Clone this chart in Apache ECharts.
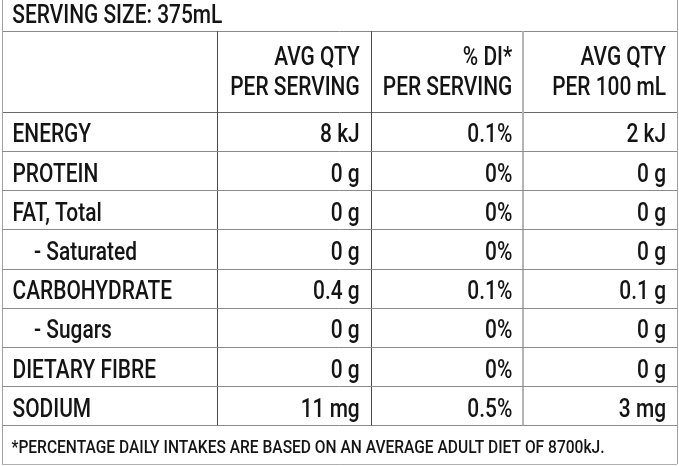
<!DOCTYPE html>
<html><head><meta charset="utf-8">
<script src="https://cdn.jsdelivr.net/npm/echarts@6/dist/echarts.min.js"></script>
<style>html,body{margin:0;padding:0;background:#fff}#c{width:679px;height:466px}</style>
</head><body><div id="c"></div>
<script>
// ---- data ----
const servingSize = 'SERVING SIZE: 375mL';
const headerLine1 = ['AVG QTY', '% DI*', 'AVG QTY'];
const headerLine2 = ['PER SERVING', 'PER SERVING', 'PER 100 mL'];
const nutrients = ['ENERGY', 'PROTEIN', 'FAT, Total', '- Saturated', 'CARBOHYDRATE', '- Sugars', 'DIETARY FIBRE', 'SODIUM'];
const perServing = ['8 kJ', '0 g', '0 g', '0 g', '0.4 g', '0 g', '0 g', '11 mg'];
const percentDI = ['0.1%', '0%', '0%', '0%', '0.1%', '0%', '0%', '0.5%'];
const per100mL = ['2 kJ', '0 g', '0 g', '0 g', '0.1 g', '0 g', '0 g', '3 mg'];
const footnote = '*PERCENTAGE DAILY INTAKES ARE BASED ON AN AVERAGE ADULT DIET OF 8700kJ.';

// ---- layout (axis units) ----
const W = 675, H = 464;
const COLS = [0, 214.7, 368.7, 521.3, 675];
const SERV_BOTTOM = 31.3, HEAD_BOTTOM = 111.7, ROW_H = 39.2;
const FOOT_TOP = HEAD_BOTTOM + nutrients.length * ROW_H;
const PAD = 11;
const FONT = 'Roboto, Liberation Sans, Arial, sans-serif';
const SX = 0.82;
const INK = '#141414';

function txt(api, x, y, text, align, size, sx) {
  const p = api.coord([x, y]);
  return {
    type: 'text', x: p[0], y: p[1], scaleX: sx || SX,
    style: { text: text, fill: INK, fontSize: size || 25.5, fontFamily: FONT, fontWeight: 500,
      align: align, textAlign: align, verticalAlign: 'middle', textVerticalAlign: 'middle' }
  };
}
function ln(api, x1, y1, x2, y2, color, w) {
  const a = api.coord([x1, y1]), b = api.coord([x2, y2]);
  const lw = w || 1;
  const off = lw % 2 ? 0.5 : 0;
  const fx = v => Math.round(v) + off;
  return {
    type: 'line',
    shape: { x1: x1 === x2 ? fx(a[0]) : a[0], y1: y1 === y2 ? fx(a[1]) : a[1],
             x2: x1 === x2 ? fx(b[0]) : b[0], y2: y1 === y2 ? fx(b[1]) : b[1] },
    style: { stroke: color, lineWidth: lw }
  };
}
const VCOL = ['#9a9a9a', '#4a4a4a', '#4a4a4a', '#b4b4b4', '#9a9a9a'];
const VW = [1, 1, 1, 2, 1];

function renderFrame(params, api) {
  const els = [];
  els.push(txt(api, 10.3, 17, servingSize, 'left'));
  for (let c = 0; c < 3; c++) {
    els.push(txt(api, COLS[c + 2] - PAD, 59, headerLine1[c], 'right'));
    els.push(txt(api, COLS[c + 2] - PAD, 89, headerLine2[c], 'right'));
  }
  els.push(txt(api, 9.5, 448, footnote, 'left', 19.1, 0.815));
  els.push(ln(api, 0, SERV_BOTTOM, W, SERV_BOTTOM, '#8a8a8a'));
  els.push(ln(api, 0, HEAD_BOTTOM, W, HEAD_BOTTOM, '#6a6a6a'));
  els.push(ln(api, 0, FOOT_TOP, W, FOOT_TOP, '#8a8a8a'));
  els.push(ln(api, 0, H - 0.5, W, H - 0.5, '#b0b0b0'));
  els.push(ln(api, 0, 0, 0, H, '#a0a0a0'));
  els.push(ln(api, W, 0, W, H, '#a0a0a0'));
  for (let c = 1; c < 4; c++) {
    els.push(ln(api, COLS[c], SERV_BOTTOM, COLS[c], FOOT_TOP, VCOL[c], VW[c]));
  }
  return { type: 'group', children: els };
}

function renderRow(params, api) {
  const i = api.value(1);
  const top = HEAD_BOTTOM + i * ROW_H;
  const cy = top + 24.3;
  const els = [];
  const label = nutrients[i];
  const indented = label.charAt(0) === '-';
  els.push(txt(api, indented ? 32 : 10.5, cy, label, 'left'));
  els.push(txt(api, COLS[2] - PAD, cy, perServing[i], 'right'));
  els.push(txt(api, COLS[3] - PAD, cy, percentDI[i], 'right'));
  els.push(txt(api, COLS[4] - PAD, cy, per100mL[i], 'right'));
  if (i < nutrients.length - 1) {
    els.push(ln(api, 0, top + ROW_H, W, top + ROW_H, '#8a8a8a'));
  }
  return { type: 'group', children: els };
}

const chart = echarts.init(document.getElementById('c'));
chart.setOption({
  animation: false,
  backgroundColor: '#ffffff',
  grid: { left: 2, right: 2, top: 0, bottom: 2 },
  xAxis: { type: 'value', min: 0, max: W, show: false },
  yAxis: { type: 'value', min: 0, max: H, inverse: true, show: false },
  series: [
    { type: 'custom', clip: false, renderItem: renderFrame, data: [[0, 0]] },
    { type: 'custom', clip: false, renderItem: renderRow, data: nutrients.map((_, i) => [0, i]) }
  ]
});
</script></body></html>
